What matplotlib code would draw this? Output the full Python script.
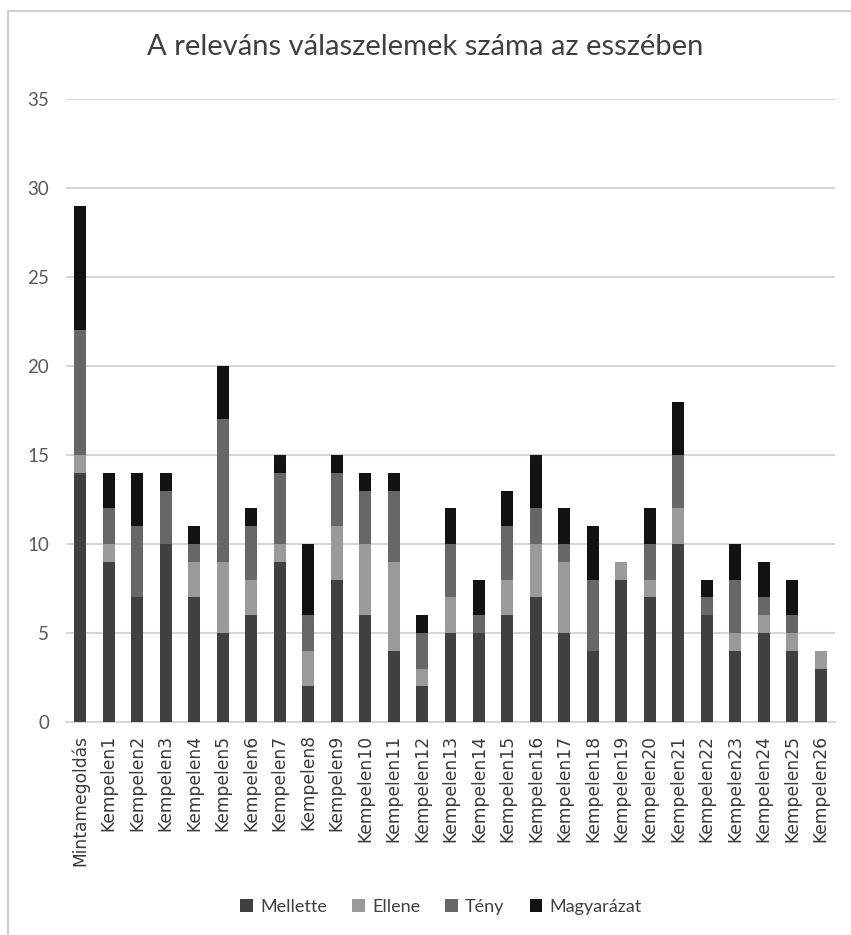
import matplotlib
matplotlib.use("Agg")
import matplotlib.pyplot as plt
from matplotlib.patches import Rectangle
import numpy as np

categories = ["Mintamegoldás"] + [f"Kempelen{i}" for i in range(1, 27)]
mellette    = [14, 9, 7, 10, 7, 5, 6, 9, 2, 8, 6, 4, 2, 5, 5, 6, 7, 5, 4, 8, 7, 10, 6, 4, 5, 4, 3]
ellene      = [1, 1, 0, 0, 2, 4, 2, 1, 2, 3, 4, 5, 1, 2, 0, 2, 3, 4, 0, 1, 1, 2, 0, 1, 1, 1, 1]
teny        = [7, 2, 4, 3, 1, 8, 3, 4, 2, 3, 3, 4, 2, 3, 1, 3, 2, 1, 4, 0, 2, 3, 1, 3, 1, 1, 0]
magyarazat  = [7, 2, 3, 1, 1, 3, 1, 1, 4, 1, 1, 1, 1, 2, 2, 2, 3, 2, 3, 0, 2, 3, 1, 2, 2, 2, 0]

series = [("Mellette", mellette, "#404040"),
          ("Ellene", ellene, "#9a9a9a"),
          ("Tény", teny, "#676767"),
          ("Magyarázat", magyarazat, "#121212")]

W, H = 851, 935
fig = plt.figure(figsize=(W / 100, H / 100), dpi=100)
fig.patch.set_facecolor("white")

# chart frame (top and left edges visible)
fig.patches.append(Rectangle((8 / W, -0.1), 1.2, (H - 11) / H + 0.1,
                             transform=fig.transFigure, fill=False,
                             edgecolor="#d0d0d0", linewidth=1.5))

ax = fig.add_axes([66 / W, 1 - 722 / H, (835 - 66) / W, (722 - 99) / H])
x = np.arange(len(categories))
bottom = np.zeros(len(categories))
for name, vals, color in series:
    vals = np.array(vals, dtype=float)
    ax.bar(x, vals, width=0.42, bottom=bottom, color=color, label=name,
           edgecolor="none", zorder=3)
    bottom += vals

ax.set_xlim(-0.5, len(categories) - 0.5)
ax.set_ylim(0, 35)
ax.set_yticks(range(0, 36, 5))
ax.yaxis.grid(True, color="#d6d6d6", linewidth=1.5, zorder=0)
ax.set_axisbelow(True)
for s in ["top", "right", "left"]:
    ax.spines[s].set_visible(False)
ax.spines["bottom"].set_color("#d6d6d6")
ax.spines["bottom"].set_linewidth(1.5)
ax.tick_params(axis="both", length=0)
ax.tick_params(axis="y", pad=12, labelcolor="#595959")
ax.tick_params(axis="x", pad=9, labelcolor="#3a3a3a")
for lbl in ax.get_yticklabels():
    lbl.set_fontfamily("Lato")
    lbl.set_fontsize(13.5)
ax.set_xticks(x)
ax.set_xticklabels(categories, rotation=90, fontsize=12.3, family="DejaVu Sans")

fig.text(0.5, 1 - 47 / H, "A releváns válaszelemek száma az esszében",
         ha="center", va="center", fontsize=21, family="Lato", color="#404040")

handles, labels = ax.get_legend_handles_labels()
leg = fig.legend(handles, labels, loc="center", bbox_to_anchor=(441 / W, 1 - 907 / H),
                 ncol=4, frameon=False, prop={"family": "Lato", "size": 13},
                 handlelength=0.7, handleheight=0.7, handletextpad=0.4,
                 columnspacing=1.4)
for t in leg.get_texts():
    t.set_color("#404040")

fig.savefig("out.png", dpi=100, facecolor="white")
